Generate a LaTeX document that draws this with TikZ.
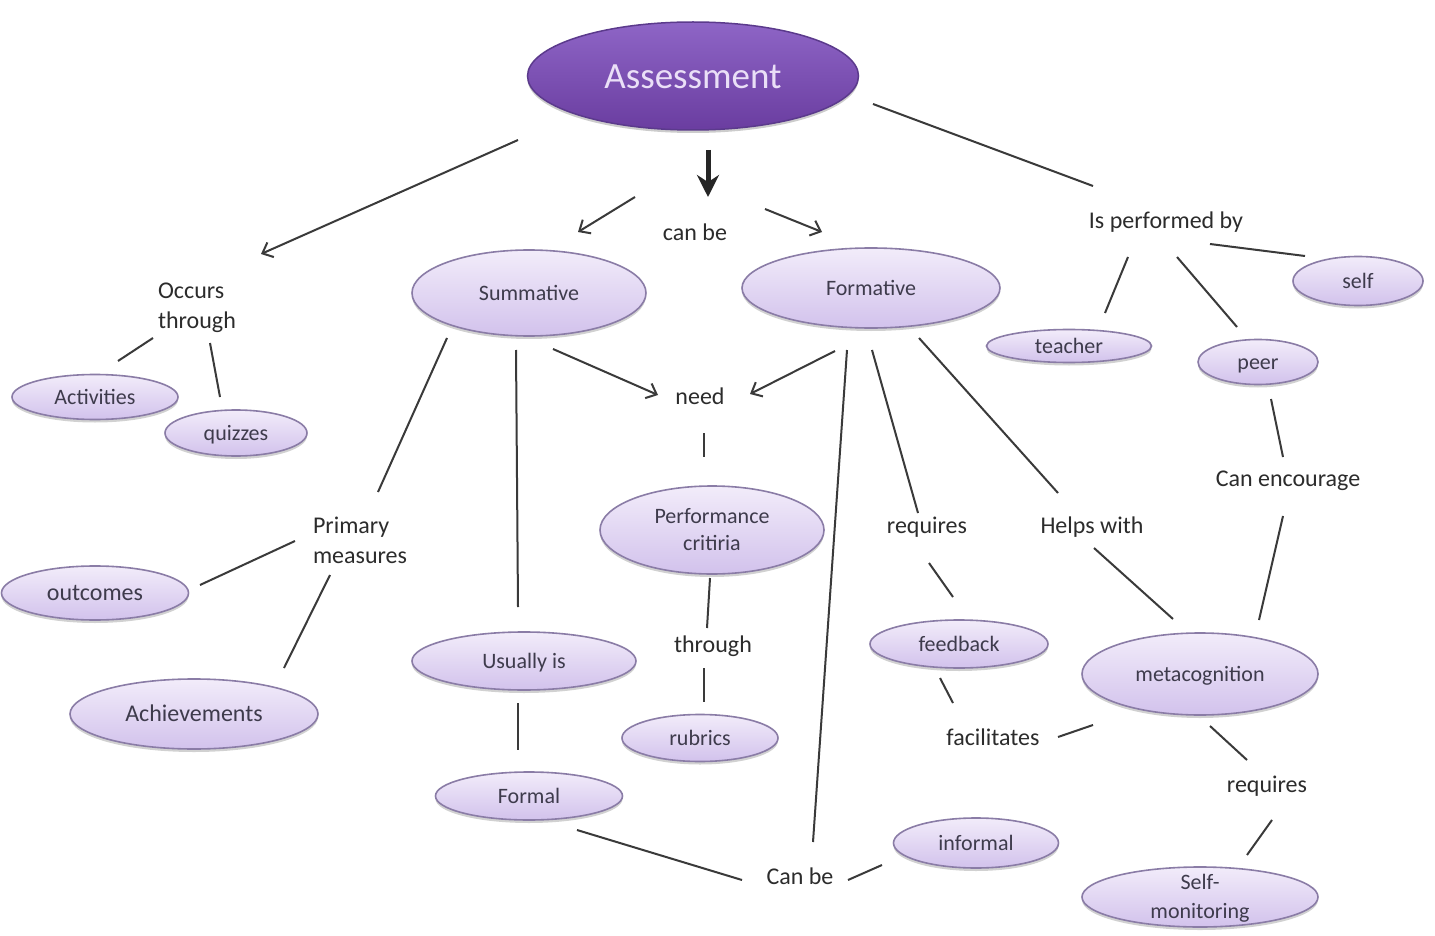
\documentclass[tikz,border=0pt]{standalone}
\usepackage{fontspec}
\setmainfont{Carlito}
\usetikzlibrary{shapes.geometric,arrows.meta,shadows}

\definecolor{rootTop}{HTML}{8E65C6}
\definecolor{rootBot}{HTML}{6A3DA0}
\definecolor{rootEdge}{HTML}{5B3A8C}
\definecolor{rootText}{HTML}{EADFF7}
\definecolor{bubTop}{HTML}{F2ECFA}
\definecolor{bubBot}{HTML}{D2C2EC}
\definecolor{bubEdge}{HTML}{8A7CA6}
\definecolor{bubText}{HTML}{3E3B4C}
\definecolor{wordText}{HTML}{2C2C2C}
\definecolor{lineCol}{HTML}{3A3A3A}

% text boxes of zero height, so each node is centred on its x-height
\newcommand\ctr[1]{\raisebox{-0.33em}[0pt][0pt]{#1}}
\newcommand\ctrr[2][c]{\raisebox{-0.3em}[0pt][0pt]{\begin{tabular}{@{}#1@{}}#2\end{tabular}}}

\begin{document}
\begin{tikzpicture}[x=1pt,y=-1pt,
  bub/.style={ellipse, inner sep=0pt, outer sep=0pt, draw=bubEdge, line width=1.6pt,
    top color=bubTop, bottom color=bubBot, text=bubText,
    font=\fontsize{22}{27}\selectfont,
    drop shadow={shadow xshift=0pt, shadow yshift=-3pt, opacity=0.18, fill=black}},
  root/.style={ellipse, inner sep=0pt, outer sep=0pt, draw=rootEdge, line width=1.5pt,
    top color=rootTop, bottom color=rootBot, text=rootText,
    font=\fontsize{37}{42}\selectfont,
    drop shadow={shadow xshift=0pt, shadow yshift=-3pt, opacity=0.2, fill=black}},
  word/.style={inner sep=0pt, outer sep=0pt, text=wordText, font=\fontsize{24}{30}\selectfont},
  conn/.style={draw=lineCol, line width=2pt},
  arr/.style={conn, -{Straight Barb[length=9pt,width=16pt,line width=2pt]}},
  bigarr/.style={draw=black!85, line width=5pt, -{Stealth[length=22pt,width=22pt]}}]

\useasboundingbox[fill=white] (0,0) rectangle (1435,936);

% ---- concept ellipses
\node[root, minimum width=331pt, minimum height=108pt] (assess) at (693,76) {\ctr{Assessment}};
\node[bub, minimum width=234pt, minimum height=86pt] (sum) at (529,293) {\ctr{Summative}};
\node[bub, minimum width=258pt, minimum height=80pt] (form) at (871,288) {\ctr{Formative}};
\node[bub, minimum width=165pt, minimum height=33pt] (tea) at (1069,346) {\ctr{teacher}};
\node[bub, minimum width=120pt, minimum height=45pt] (peer) at (1258,362) {\ctr{peer}};
\node[bub, minimum width=130pt, minimum height=49pt] (self) at (1358,281) {\ctr{self}};
\node[bub, minimum width=166pt, minimum height=45pt] (act) at (95,397) {\ctr{Activities}};
\node[bub, minimum width=142pt, minimum height=46pt] (quiz) at (236,433) {\ctr{quizzes}};
\node[bub, minimum width=224pt, minimum height=88pt] (pc) at (712,530) {\ctrr{Performance\\critiria}};
\node[bub, minimum width=187pt, minimum height=54pt, font=\fontsize{24}{29}\selectfont] (outc) at (95,593) {\ctr{outcomes}};
\node[bub, minimum width=248pt, minimum height=70pt, font=\fontsize{24}{29}\selectfont] (ach) at (194,714) {\ctr{Achievements}};
\node[bub, minimum width=224pt, minimum height=58pt] (usu) at (524,661) {\ctr{Usually is}};
\node[bub, minimum width=187pt, minimum height=48pt] (formal) at (529,796) {\ctr{Formal}};
\node[bub, minimum width=156pt, minimum height=47pt] (rub) at (700,738) {\ctr{rubrics}};
\node[bub, minimum width=178pt, minimum height=48pt] (fb) at (959,644) {\ctr{feedback}};
\node[bub, minimum width=165pt, minimum height=50pt] (inf) at (976,843) {\ctr{informal}};
\node[bub, minimum width=236pt, minimum height=82pt] (meta) at (1200,674) {\ctr{metacognition}};
\node[bub, minimum width=236pt, minimum height=60pt, font=\fontsize{22}{29}\selectfont] (sm) at (1200,897) {\ctrr{Self-\\monitoring}};

% ---- linking words
\node[word] (cb) at (695,233) {\ctr{can be}};
\node[word] (oc) at (197,307) {\ctrr[l]{Occurs\\through}};
\node[word] (ipb) at (1166,221) {\ctr{Is performed by}};
\node[word] (need) at (700,397) {\ctr{need}};
\node[word] (pm) at (360,542) {\ctrr[l]{Primary\\measures}};
\node[word] (thr) at (713,645) {\ctr{through}};
\node[word] (req1) at (927,526) {\ctr{requires}};
\node[word] (hw) at (1092,526) {\ctr{Helps with}};
\node[word] (ce) at (1288,479) {\ctr{Can encourage}};
\node[word] (fac) at (993,738) {\ctr{facilitates}};
\node[word] (req2) at (1267,785) {\ctr{requires}};
\node[word] (cb2) at (800,877) {\ctr{Can be}};

% ---- connectors
\draw[arr] ([shift={(-175,64)}]assess.center) -- ([shift={(64,-53)}]oc.center);
\draw[bigarr] ([shift={(15,74)}]assess.center) -- ([shift={(13,-36)}]cb.center);
\draw[arr] ([shift={(-60,-36)}]cb.center) -- ([shift={(49,-61)}]sum.center);
\draw[arr] ([shift={(70,-24)}]cb.center) -- ([shift={(-49,-56)}]form.center);
\draw[conn] ([shift={(180,28)}]assess.center) -- ([shift={(-73,-35)}]ipb.center);
\draw[conn] ([shift={(-38,36)}]ipb.center) -- ([shift={(36,-33)}]tea.center);
\draw[conn] ([shift={(11,36)}]ipb.center) -- ([shift={(-21,-35)}]peer.center);
\draw[conn] ([shift={(44,23)}]ipb.center) -- ([shift={(-53,-25)}]self.center);
\draw[conn] ([shift={(-44,31)}]oc.center) -- ([shift={(23,-36)}]act.center);
\draw[conn] ([shift={(13,36)}]oc.center) -- ([shift={(-16,-36)}]quiz.center);
\draw[conn] ([shift={(-82,45)}]sum.center) -- ([shift={(18,-50)}]pm.center);
\draw[conn] ([shift={(-65,-1)}]pm.center) -- ([shift={(105,-8)}]outc.center);
\draw[conn] ([shift={(-30,33)}]pm.center) -- ([shift={(90,-46)}]ach.center);
\draw[conn] ([shift={(-13,57)}]sum.center) -- ([shift={(-6,-54)}]usu.center);
\draw[conn] ([shift={(-6,42)}]usu.center) -- ([shift={(-11,-46)}]formal.center);
\draw[arr] ([shift={(24,56)}]sum.center) -- ([shift={(-42,-2)}]need.center);
\draw[arr] ([shift={(-36,63)}]form.center) -- ([shift={(50,-3)}]need.center);
\draw[conn] ([shift={(4,36)}]need.center) -- ([shift={(-8,-73)}]pc.center);
\draw[conn] ([shift={(-2,48)}]pc.center) -- ([shift={(-6,-17)}]thr.center);
\draw[conn] ([shift={(-9,23)}]thr.center) -- ([shift={(4,-36)}]rub.center);
\draw[conn] ([shift={(-24,62)}]form.center) -- ([shift={(13,-35)}]cb2.center);
\draw[conn] ([shift={(48,34)}]formal.center) -- ([shift={(-58,3)}]cb2.center);
\draw[conn] ([shift={(48,3)}]cb2.center) -- ([shift={(-94,22)}]inf.center);
\draw[conn] ([shift={(1,62)}]form.center) -- ([shift={(-9,-13)}]req1.center);
\draw[conn] ([shift={(2,37)}]req1.center) -- ([shift={(-6,-47)}]fb.center);
\draw[conn] ([shift={(-19,34)}]fb.center) -- ([shift={(-40,-35)}]fac.center);
\draw[conn] ([shift={(48,50)}]form.center) -- ([shift={(-34,-33)}]hw.center);
\draw[conn] ([shift={(2,22)}]hw.center) -- ([shift={(-27,-55)}]meta.center);
\draw[conn] ([shift={(65,-1)}]fac.center) -- ([shift={(-107,51)}]meta.center);
\draw[conn] ([shift={(13,37)}]peer.center) -- ([shift={(-5,-22)}]ce.center);
\draw[conn] ([shift={(-5,37)}]ce.center) -- ([shift={(59,-54)}]meta.center);
\draw[conn] ([shift={(10,52)}]meta.center) -- ([shift={(-20,-25)}]req2.center);
\draw[conn] ([shift={(5,35)}]req2.center) -- ([shift={(47,-42)}]sm.center);
\end{tikzpicture}
\end{document}
